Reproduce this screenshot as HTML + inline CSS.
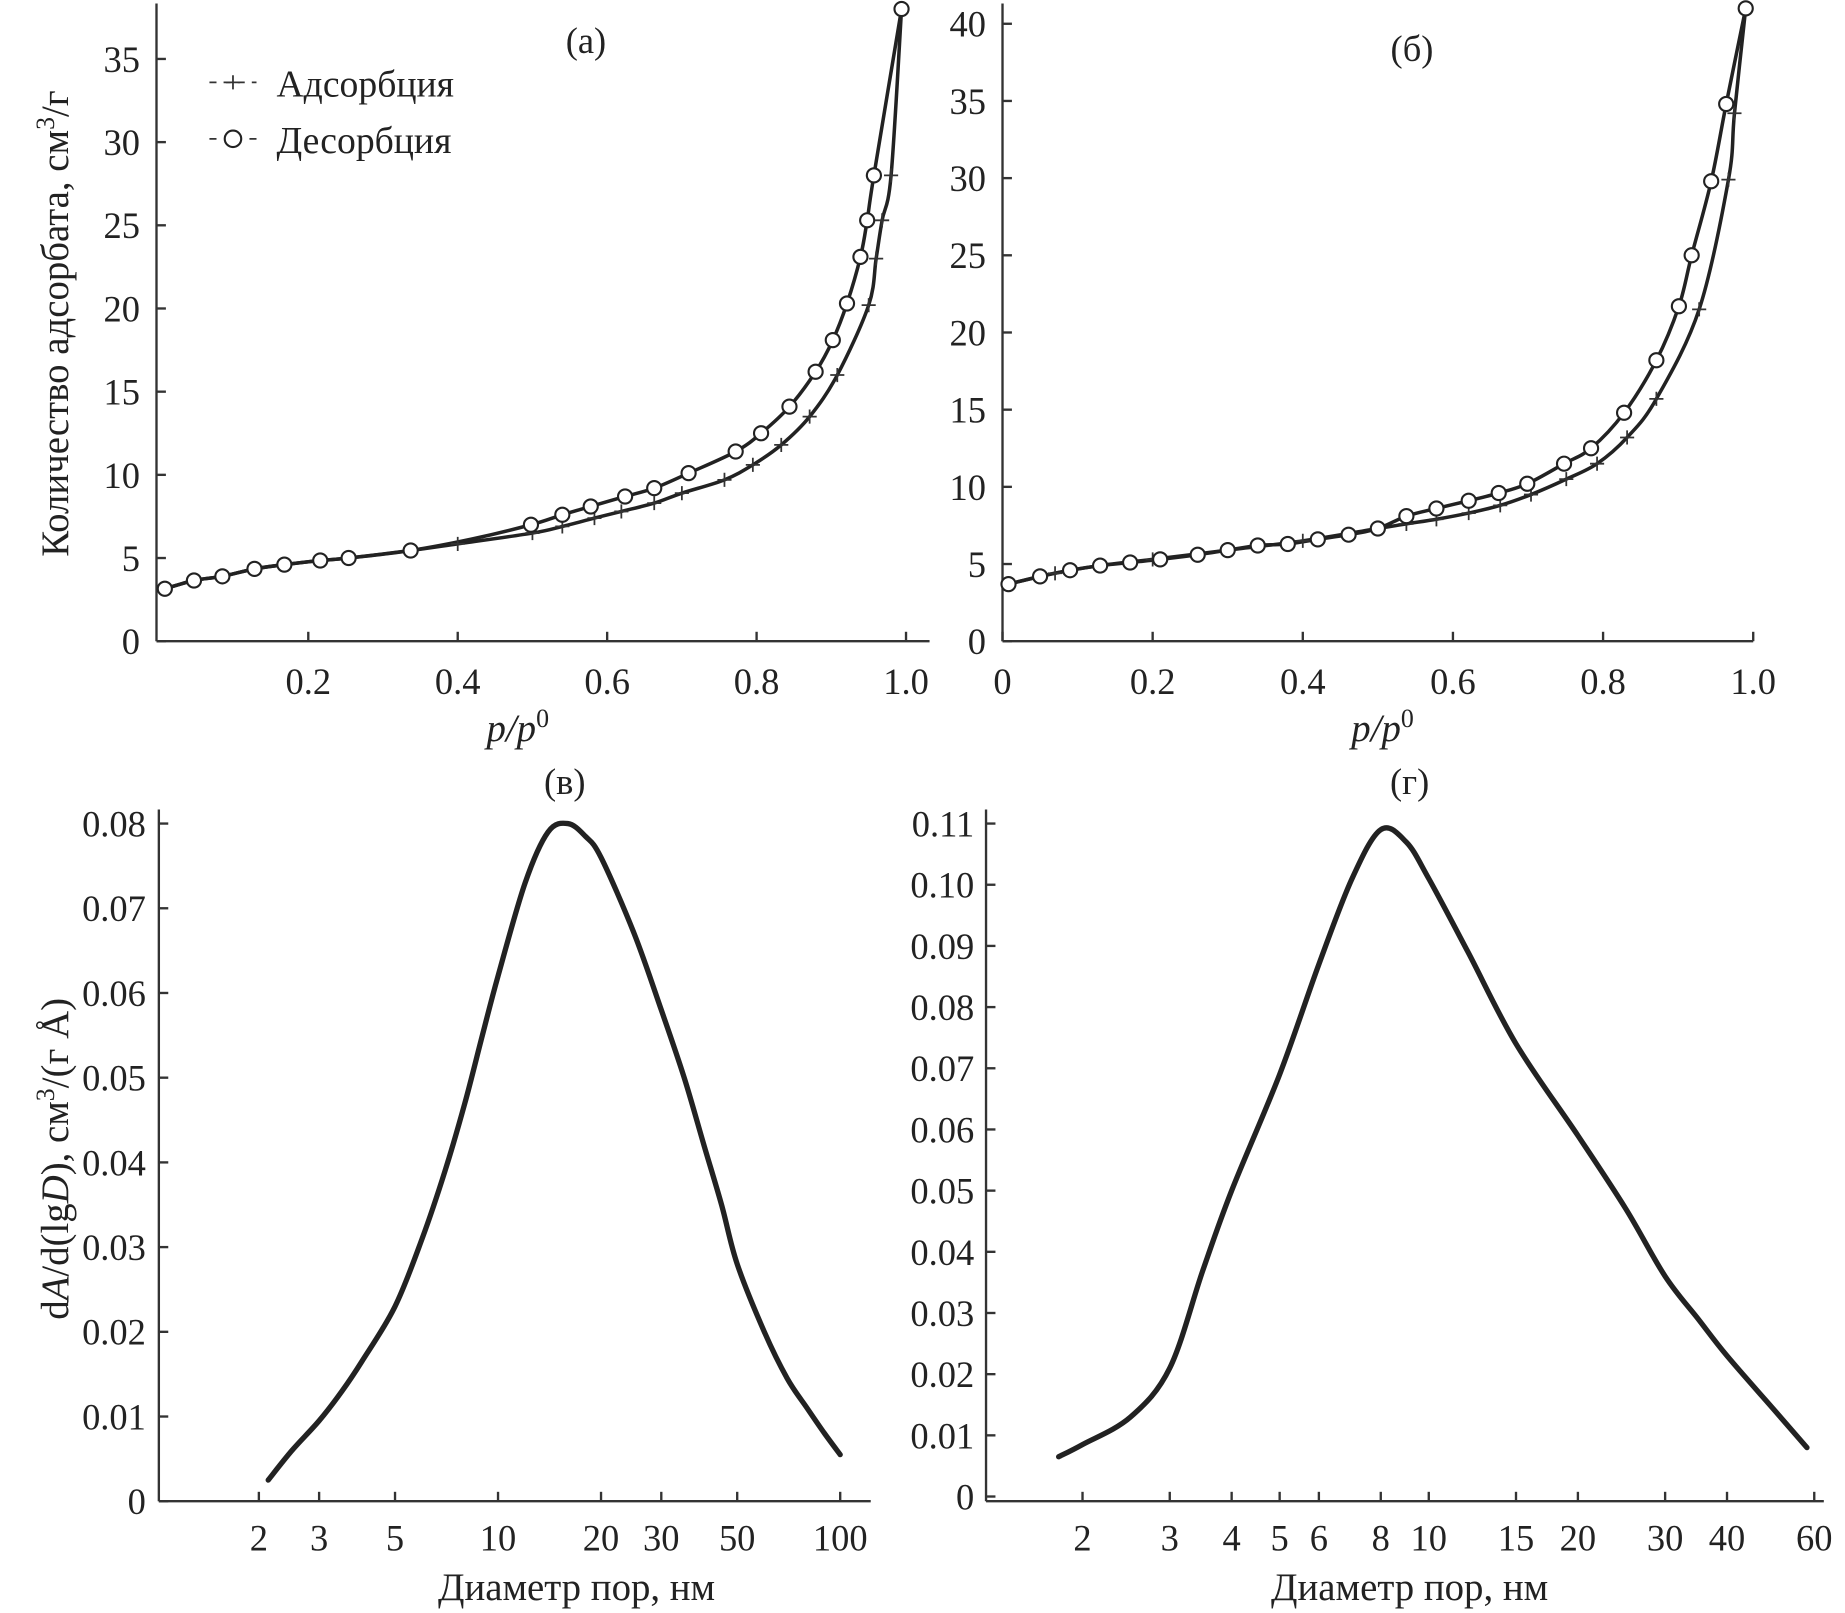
<!DOCTYPE html>
<html><head><meta charset="utf-8"><style>
html,body{margin:0;padding:0;background:#fff}
svg{display:block}
text{font-family:"Liberation Serif",serif;fill:#222}
</style></head><body>
<svg id="fig" width="1845" height="1613" viewBox="0 0 1568 1371" preserveAspectRatio="none"></svg>
<script>
// ---- data ----
const adsAX=[0.008,0.047,0.085,0.128,0.168,0.216,0.254,0.337,0.4,0.5,0.54,0.583,0.619,0.663,0.70,0.757,0.795,0.833,0.871,0.908,0.95,0.96,0.968,0.98,0.994];
const adsAY=[3.15,3.65,3.9,4.35,4.6,4.85,5.0,5.45,5.85,6.5,6.9,7.4,7.8,8.3,8.9,9.7,10.6,11.8,13.5,16,20.2,23,25.3,28,38];
const desAX=[0.008,0.047,0.085,0.128,0.168,0.216,0.254,0.337,0.42,0.498,0.54,0.578,0.624,0.663,0.709,0.772,0.806,0.844,0.879,0.902,0.921,0.939,0.948,0.957,0.994];
const desAY=[3.15,3.65,3.9,4.35,4.6,4.85,5.0,5.45,6.15,7.0,7.6,8.1,8.7,9.2,10.1,11.4,12.5,14.1,16.2,18.1,20.3,23.1,25.3,28,38];
const adsBX=[0.008,0.07,0.13,0.2,0.3,0.4,0.5,0.538,0.578,0.621,0.663,0.704,0.751,0.792,0.832,0.871,0.928,0.967,0.975,0.99];
const adsBY=[3.7,4.4,4.9,5.3,5.9,6.5,7.3,7.6,7.9,8.3,8.8,9.5,10.5,11.5,13.2,15.7,21.5,29.9,34.2,41];
const desBX=[0.008,0.05,0.09,0.13,0.17,0.21,0.26,0.3,0.34,0.38,0.42,0.461,0.5,0.538,0.578,0.621,0.661,0.699,0.748,0.784,0.828,0.871,0.901,0.918,0.944,0.964,0.99];
const desBY=[3.7,4.2,4.6,4.9,5.1,5.3,5.6,5.9,6.2,6.3,6.6,6.9,7.3,8.1,8.6,9.1,9.6,10.2,11.5,12.5,14.8,18.2,21.7,25,29.8,34.8,41];
const psdVX=[2.13,2.5,3,3.5,4,5,6,7,8,9,10,12,14,16,18,20,25,30,35,40,45,50,60,70,80,90,100];
const psdVY=[0.0025,0.006,0.0095,0.013,0.0165,0.023,0.031,0.039,0.047,0.055,0.062,0.073,0.079,0.080,0.0785,0.076,0.067,0.058,0.050,0.042,0.035,0.028,0.02,0.0145,0.011,0.008,0.0055];
const psdGX=[1.79,2,2.5,3,3.5,4,5,6,7,8,9,10,12,15,20,25,30,35,40,50,58];
const psdGY=[0.0065,0.0085,0.013,0.021,0.037,0.05,0.069,0.087,0.101,0.109,0.107,0.101,0.089,0.074,0.059,0.047,0.036,0.029,0.023,0.014,0.008];
const ticksA=[0,5,10,15,20,25,30,35];
const ticksB=[0,5,10,15,20,25,30,35,40];
const ticksPX=["0.2","0.4","0.6","0.8","1.0"];
const ticksPXb=["0","0.2","0.4","0.6","0.8","1.0"];
const ticksV=[0,0.01,0.02,0.03,0.04,0.05,0.06,0.07,0.08];
const ticksG=[0,0.01,0.02,0.03,0.04,0.05,0.06,0.07,0.08,0.09,0.10,0.11];
const ticksVX=[2,3,5,10,20,30,50,100];
const ticksGX=[2,3,4,5,6,8,10,15,20,30,40,60];

const NS="http://www.w3.org/2000/svg";
const svg=document.getElementById('fig');
function el(tag,attrs,parent,txt){const e=document.createElementNS(NS,tag);for(const k in attrs)e.setAttribute(k,attrs[k]);if(txt!==undefined)e.textContent=txt;(parent||svg).appendChild(e);return e;}
function smooth(pts){let d="M"+pts[0][0]+","+pts[0][1];for(let i=0;i<pts.length-1;i++){const p0=pts[Math.max(0,i-1)],p1=pts[i],p2=pts[i+1],p3=pts[Math.min(pts.length-1,i+2)];const c1=[p1[0]+(p2[0]-p0[0])/6,p1[1]+(p2[1]-p0[1])/6],c2=[p2[0]-(p3[0]-p1[0])/6,p2[1]-(p3[1]-p1[1])/6];d+=" C"+c1[0]+","+c1[1]+" "+c2[0]+","+c2[1]+" "+p2[0]+","+p2[1];}return d;}
function axes(g,x0,y0,x1,ytop){el('line',{x1:x0,y1:y0,x2:x1,y2:y0,stroke:'#333','stroke-width':2},g);el('line',{x1:x0,y1:y0,x2:x0,y2:ytop,stroke:'#333','stroke-width':2},g);}
const FS=31;

// Panel a
{const g=el('g',{});
const sx=v=>135+v*635, sy=v=>545-v*14.14;
axes(g,133,545,790,3);
ticksA.forEach(t=>{el('line',{x1:133,y1:sy(t),x2:141,y2:sy(t),stroke:'#333','stroke-width':2},g);const tx=el('text',{x:119,y:sy(t)+11,'text-anchor':'end','font-size':FS},g,String(t));});
ticksPX.forEach(t=>{const x=sx(+t);el('line',{x1:x,y1:545,x2:x,y2:537,stroke:'#333','stroke-width':2},g);const tx=el('text',{x:x,y:590,'text-anchor':'middle','font-size':FS},g,t);});
const pa=el('path',{d:smooth(adsAX.map((v,i)=>[sx(v),sy(adsAY[i])])),fill:'none',stroke:'#222','stroke-width':3},g);
const pd=el('path',{d:smooth(desAX.map((v,i)=>[sx(v),sy(desAY[i])])),fill:'none',stroke:'#222','stroke-width':3},g);
adsAX.forEach((v,i)=>{const x=sx(v),y=sy(adsAY[i]);const p=el('path',{d:`M${x-6},${y}H${x+6}M${x},${y-6}V${y+6}`,stroke:'#333','stroke-width':1.5},g);});
desAX.forEach((v,i)=>{if(i===8)return;const c=el('circle',{cx:sx(v),cy:sy(desAY[i]),r:6,fill:'#fff',stroke:'#222','stroke-width':1.8},g);});
}
// Panel b
{const g=el('g',{});
const sx=v=>852+v*638, sy=v=>545-v*13.12;
axes(g,852,545,1490,3);
ticksB.forEach(t=>{el('line',{x1:852,y1:sy(t),x2:860,y2:sy(t),stroke:'#333','stroke-width':2},g);const tx=el('text',{x:838,y:sy(t)+11,'text-anchor':'end','font-size':FS},g,String(t));});
ticksPXb.forEach(t=>{const x=sx(+t);el('line',{x1:x,y1:545,x2:x,y2:537,stroke:'#333','stroke-width':2},g);const tx=el('text',{x:x,y:590,'text-anchor':'middle','font-size':FS},g,t);});
const pa=el('path',{d:smooth(adsBX.map((v,i)=>[sx(v),sy(adsBY[i])])),fill:'none',stroke:'#222','stroke-width':3},g);
const pd=el('path',{d:smooth(desBX.map((v,i)=>[sx(v),sy(desBY[i])])),fill:'none',stroke:'#222','stroke-width':3},g);
adsBX.forEach((v,i)=>{const x=sx(v),y=sy(adsBY[i]);const p=el('path',{d:`M${x-6},${y}H${x+6}M${x},${y-6}V${y+6}`,stroke:'#333','stroke-width':1.5},g);});
desBX.forEach((v,i)=>{const c=el('circle',{cx:sx(v),cy:sy(desBY[i]),r:6,fill:'#fff',stroke:'#222','stroke-width':1.8},g);});
}
// Panel v
{const g=el('g',{});
const sx=v=>220+Math.log10(v/2)*290.8, sy=v=>1276-v*7200;
axes(g,135,1276,740,688);
ticksV.forEach(t=>{el('line',{x1:135,y1:sy(t),x2:143,y2:sy(t),stroke:'#333','stroke-width':2},g);const tx=el('text',{x:124,y:sy(t)+11,'text-anchor':'end','font-size':FS},g,t===0?'0':t.toFixed(2));});
ticksVX.forEach(t=>{const x=sx(t);el('line',{x1:x,y1:1276,x2:x,y2:1268,stroke:'#333','stroke-width':2},g);const tx=el('text',{x:x,y:1318,'text-anchor':'middle','font-size':FS},g,String(t));});
const p=el('path',{d:smooth(psdVX.map((v,i)=>[sx(v),sy(psdVY[i])])),fill:'none',stroke:'#222','stroke-width':4.5,'stroke-linecap':'round'},g);
}
// Panel g
{const g=el('g',{});
const sx=v=>920+Math.log10(v/2)*421, sy=v=>1272-v*5200;
axes(g,838,1276,1550,688);
ticksG.forEach(t=>{el('line',{x1:838,y1:sy(t),x2:846,y2:sy(t),stroke:'#333','stroke-width':2},g);const tx=el('text',{x:828,y:sy(t)+11,'text-anchor':'end','font-size':FS},g,t===0?'0':t.toFixed(2));});
ticksGX.forEach(t=>{const x=sx(t);el('line',{x1:x,y1:1276,x2:x,y2:1268,stroke:'#333','stroke-width':2},g);const tx=el('text',{x:x,y:1318,'text-anchor':'middle','font-size':FS},g,String(t));});
const p=el('path',{d:smooth(psdGX.map((v,i)=>[sx(v),sy(psdGY[i])])),fill:'none',stroke:'#222','stroke-width':4.5,'stroke-linecap':'round'},g);
}
</script>
<svg width="1845" height="1613" viewBox="0 0 1568 1371" preserveAspectRatio="none" style="position:absolute;left:0;top:0">
<g font-family="Liberation Serif, serif" fill="#222" font-size="31">
<text x="498" y="45" text-anchor="middle">(а)</text>
<text x="1200" y="52" text-anchor="middle">(б)</text>
<text x="480" y="675" text-anchor="middle">(в)</text>
<text x="1198" y="675" text-anchor="middle">(г)</text>
<g>
<line x1="178" y1="70" x2="218" y2="70" stroke="#333" stroke-width="1.5" stroke-dasharray="6 6"/><path d="M192,70H204M198,64V76" stroke="#333" stroke-width="1.5"/>
<text x="235" y="82" font-size="32">Адсорбция</text>
<line x1="178" y1="118" x2="218" y2="118" stroke="#333" stroke-width="1.5" stroke-dasharray="6 28 6"/><circle cx="198" cy="118" r="7" fill="#fff" stroke="#222" stroke-width="1.8"/>
<text x="235" y="130" font-size="32">Десорбция</text>
</g>
<text transform="translate(58,275) rotate(-90)" text-anchor="middle" font-size="33">Количество адсорбата, см<tspan dy="-12" font-size="22">3</tspan><tspan dy="12">/г</tspan></text>
<text x="440" y="630" text-anchor="middle" font-style="italic" font-size="33">p/p<tspan dy="-12" font-size="22" font-style="normal">0</tspan></text>
<text x="1175" y="630" text-anchor="middle" font-style="italic" font-size="33">p/p<tspan dy="-12" font-size="22" font-style="normal">0</tspan></text>
<text transform="translate(58,985) rotate(-90)" text-anchor="middle" font-size="33">d<tspan font-style="italic">A</tspan>/d(lg<tspan font-style="italic">D</tspan>), см<tspan dy="-12" font-size="22">3</tspan><tspan dy="12">/(г Å)</tspan></text>
<text x="490" y="1360" text-anchor="middle" font-size="33">Диаметр пор, нм</text>
<text x="1198" y="1360" text-anchor="middle" font-size="33">Диаметр пор, нм</text>
</g>
</svg>
</body></html>
